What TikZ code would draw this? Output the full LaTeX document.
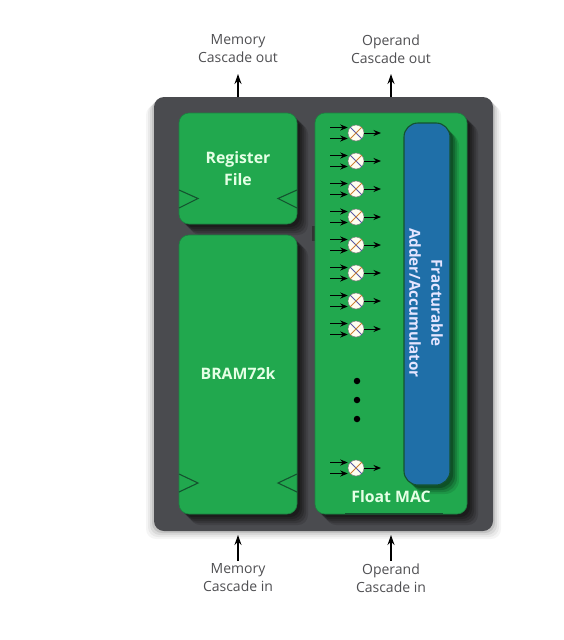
\documentclass[tikz,border=0pt]{standalone}
\usepackage{fontspec}
\setmainfont{Open Sans}
\usetikzlibrary{arrows.meta,calc}
\definecolor{panelgray}{HTML}{4A4B4F}
\definecolor{blockgreen}{HTML}{21A84E}
\definecolor{blockblue}{HTML}{1F6FA8}
\definecolor{labelgray}{HTML}{4F4F52}
\definecolor{edgedark}{HTML}{14522F}
\tikzset{
  softshadow/.style={fill=black,draw=none},
  blockbox/.style={fill=blockgreen,draw=edgedark!45!blockgreen,line width=0.6pt,rounded corners=10pt},
  caption/.style={text=labelgray,font=\fontsize{14}{18}\selectfont,align=center,inner sep=0pt},
  blocktext/.style={text=white!90!green,font=\fontsize{15.8}{22}\selectfont\bfseries,align=center,inner sep=0pt},
  addertext/.style={text=white!90!blue,font=\fontsize{15.2}{22}\selectfont\bfseries,align=center,inner sep=0pt},
  wire/.style={black,line width=1pt,-{Stealth[length=7.5pt,width=6pt]}},
  portarrow/.style={black,line width=1.3pt,-{Stealth[length=10pt,width=7pt]}},
  mult/.style={circle,fill=white!94!yellow,draw=black!50,line width=0.5pt,minimum size=16pt,inner sep=0pt},
  clock/.style={edgedark,line width=1.1pt},
}
\begin{document}
\begin{tikzpicture}[x=1pt,y=-1pt]
\useasboundingbox (0,0) rectangle (563,640);
% outer panel with soft shadow
\foreach \d/\o in {8/0.04,6/0.05,4/0.07,2/0.10}
  \fill[softshadow,opacity=\o,rounded corners=10pt] (154-\d,97+\d) rectangle (493+\d,531+\d);
\fill[panelgray,rounded corners=10pt] (154,97) rectangle (493,531);
\coordinate (pmt) at (238,97);
\coordinate (pot) at (391,97);
\coordinate (pmb) at (238,535);
\coordinate (pob) at (391,535);
% block shadows
\foreach \d/\o in {11/0.12,9/0.15,7/0.18,5/0.20,3/0.22}{
  \fill[softshadow,opacity=\o,rounded corners=10pt] (179+\d,113+\d) rectangle (297+\d,224+\d);
  \fill[softshadow,opacity=\o,rounded corners=10pt] (179+\d,235+\d) rectangle (297+\d,514+\d);
  \fill[softshadow,opacity=\o,rounded corners=10pt] (315+\d,113+\d) rectangle (467+\d,514+\d);
}
\fill[black!80] (312,226) rectangle (315,241);
% green blocks
\path[blockbox] (179,113) rectangle (297,224);
\path[blockbox] (179,235) rectangle (297,514);
\path[blockbox] (315,113) rectangle (467,514);
\draw[edgedark,line width=1.2pt] (345,513.5) -- (443,513.5);
% clock marks
\draw[clock] (179,190) -- (198,198.5) -- (179,208);
\draw[clock] (297,190) -- (278,198.5) -- (297,208);
\draw[clock] (179,474) -- (198,483) -- (179,492);
\draw[clock] (297,474) -- (278,483) -- (297,492);
% blue adder
\foreach \d/\o in {9/0.10,7/0.14,5/0.18,3/0.22}
  \fill[softshadow,opacity=\o,rounded corners=14pt] (404+\d,123+\d) rectangle (450+\d,485+\d);
\fill[blockblue,draw=edgedark,line width=1.1pt,rounded corners=14pt] (404,123) rectangle (450,485);
% texts
\node[blocktext] (reg) at (238,169) {Register\\File};
\node[blocktext] (bram) at (238,373) {BRAM72k};
\node[blocktext] (fmac) at (391,497) {Float MAC};
\node[addertext,rotate=-90] (adder) at (426,303) {Fracturable\\Adder/Accumulator};
% multipliers
\foreach \i/\y in {1/133,2/161,3/189,4/217,5/245,6/273,7/301,8/329,9/468}{
  \node[mult] (m\i) at (356,\y) {};
  \draw[blue!30!gray,line width=0.9pt] (m\i.north west) -- (m\i.south east);
  \draw[orange!60!gray,line width=0.9pt] (m\i.north east) -- (m\i.south west);
  \coordinate (a\i) at (330,\y-5.5);
  \coordinate (b\i) at (330,\y+5.5);
  \coordinate (c\i) at (381,\y);
  \draw[wire] (a\i) -- (a\i -| m\i.west);
  \draw[wire] (b\i) -- (b\i -| m\i.west);
  \draw[wire] (m\i.east) -- (c\i);
}
% dots
\foreach \y/\n in {381/d1,400/d2,419/d3}
  \node[circle,fill=black,minimum size=6.5pt,inner sep=0pt] (\n) at (357,\y) {};
% captions and ports
\node[caption] (mo) at (238,49) {Memory\\Cascade out};
\node[caption] (oo) at (391,49) {Operand\\Cascade out};
\node[caption] (mi) at (238,578) {Memory\\Cascade in};
\node[caption] (oi) at (391,578) {Operand\\Cascade in};
\coordinate (tmo) at (238,74);
\coordinate (too) at (391,74);
\coordinate (bmi) at (238,561);
\coordinate (boi) at (391,561);
\draw[portarrow] (pmt) -- (tmo);
\draw[portarrow] (pot) -- (too);
\draw[portarrow] (bmi) -- (pmb);
\draw[portarrow] (boi) -- (pob);
\end{tikzpicture}
\end{document}
